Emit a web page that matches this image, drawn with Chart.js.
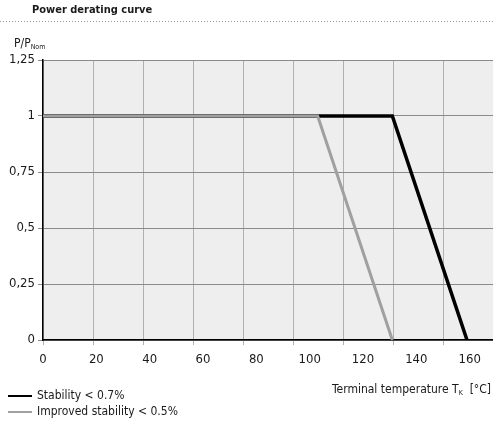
<!DOCTYPE html>
<html>
<head>
<meta charset="utf-8">
<script src="https://cdn.jsdelivr.net/npm/chart.js@4/dist/chart.umd.min.js"></script>
<style>
  body { margin: 0; background: #fff; }
  canvas { display: block; }
</style>
</head>
<body>
<canvas id="grafico" width="493" height="421"></canvas>
<script>
// curva de reducción de potencia
const xTicks = [0, 20, 40, 60, 80, 100, 120, 140, 160];
const yTicks = [0, 0.25, 0.5, 0.75, 1, 1.25];

const stabilityTemp = [0, 131, 159];
const stabilityPower = [1, 1, 0];

const improvedTemp = [0, 103, 131];
const improvedPower = [1, 1, 0];

const FUENTE = "'DejaVu Sans Condensed', 'Liberation Sans Narrow', sans-serif";
const X_MAX = 168.75;
const GRID_STEP = 18.75;

const puntos = (xs, ys) => xs.map((x, i) => ({ x: x, y: ys[i] }));

const fondo = {
  id: 'fondo',
  beforeDraw(chart) {
    const { ctx, chartArea: a } = chart;
    ctx.save();
    ctx.fillStyle = '#eeeeee';
    ctx.fillRect(a.left, a.top, a.right - a.left, a.bottom - a.top);
    ctx.restore();
  }
};

const textos = {
  id: 'textos',
  afterDraw(chart) {
    const ctx = chart.ctx;
    ctx.save();
    ctx.fillStyle = '#1a1a1a';
    ctx.textBaseline = 'middle';

    // título y línea punteada
    ctx.font = 'bold 11px ' + FUENTE;
    ctx.textAlign = 'left';
    ctx.fillText('Power derating curve', 32, 10);
    ctx.strokeStyle = '#999';
    ctx.lineWidth = 1;
    ctx.setLineDash([1, 2]);
    ctx.beginPath();
    ctx.moveTo(0, 21.5);
    ctx.lineTo(493, 21.5);
    ctx.stroke();
    ctx.setLineDash([]);

    // eje y: P/P_Nom
    ctx.font = '12px ' + FUENTE;
    ctx.fillText('P/P', 14, 44);
    let w = ctx.measureText('P/P').width;
    ctx.font = '7px ' + FUENTE;
    ctx.fillText('Nom', 14 + w, 47);

    // eje x: Terminal temperature T_K [°C]
    const partes = [
      { t: 'Terminal temperature T', f: '12px ', dy: 0 },
      { t: 'K', f: '7px ', dy: 3 },
      { t: '  [°C]', f: '12px ', dy: 0 }
    ];
    let total = 0;
    partes.forEach(p => { ctx.font = p.f + FUENTE; p.w = ctx.measureText(p.t).width; total += p.w; });
    let x = 491 - total;
    partes.forEach(p => {
      ctx.font = p.f + FUENTE;
      ctx.fillText(p.t, x, 390 + p.dy);
      x += p.w;
    });

    // leyenda
    const items = [
      { label: 'Stability < 0.7%', color: '#000', y: 396 },
      { label: 'Improved stability < 0.5%', color: '#a0a0a0', y: 412 }
    ];
    ctx.font = '12px ' + FUENTE;
    items.forEach(it => {
      ctx.strokeStyle = it.color;
      ctx.lineWidth = 2;
      ctx.beginPath();
      ctx.moveTo(8, it.y);
      ctx.lineTo(32, it.y);
      ctx.stroke();
      ctx.fillStyle = '#1a1a1a';
      ctx.fillText(it.label, 37, it.y);
    });
    ctx.restore();
  }
};

const grafico = new Chart(document.getElementById('grafico'), {
  type: 'line',
  data: {
    datasets: [
      {
        label: 'Improved stability < 0.5%',
        data: puntos(improvedTemp, improvedPower),
        borderColor: '#a0a0a0',
        borderWidth: 3,
        pointRadius: 0,
        tension: 0
      },
      {
        label: 'Stability < 0.7%',
        data: puntos(stabilityTemp, stabilityPower),
        borderColor: '#000000',
        borderWidth: 3.5,
        pointRadius: 0,
        tension: 0
      }
    ]
  },
  options: {
    responsive: false,
    animation: false,
    layout: { padding: { top: 60, right: 0, left: 0, bottom: 0 } },
    plugins: {
      legend: { display: false },
      tooltip: { enabled: false }
    },
    scales: {
      x: {
        type: 'linear',
        position: 'bottom',
        weight: 0,
        min: 0,
        max: X_MAX,
        afterBuildTicks: (s) => {
          const t = [];
          for (let v = 0; v <= X_MAX + 0.01; v += GRID_STEP) t.push({ value: v });
          s.ticks = t;
        },
        afterFit: (s) => { s.height = 6; },
        grid: { color: '#b0b0b0', lineWidth: 1, tickLength: 5, drawTicks: true },
        border: { color: '#000', width: 1.5 },
        ticks: { display: false }
      },
      xl: {
        type: 'linear',
        position: 'bottom',
        weight: 1,
        min: 0,
        max: X_MAX,
        afterBuildTicks: (s) => { s.ticks = xTicks.map(v => ({ value: v })); },
        afterFit: (s) => { s.height = 75; },
        grid: { display: false, drawTicks: false },
        border: { display: false },
        ticks: {
          padding: 6,
          maxRotation: 0,
          autoSkip: false,
          color: '#1a1a1a',
          font: { family: FUENTE, size: 13 }
        }
      },
      y: {
        min: 0,
        max: 1.25,
        afterBuildTicks: (s) => { s.ticks = yTicks.map(v => ({ value: v })); },
        afterFit: (s) => { s.width = 43; },
        grid: { color: '#8a8a8a', lineWidth: 1, tickLength: 5 },
        border: { color: '#000', width: 1.5 },
        ticks: {
          padding: 3,
          color: '#1a1a1a',
          font: { family: FUENTE, size: 13 },
          callback: (v) => String(v).replace('.', ',')
        }
      }
    }
  },
  plugins: [fondo, textos]
});
</script>
</body>
</html>
